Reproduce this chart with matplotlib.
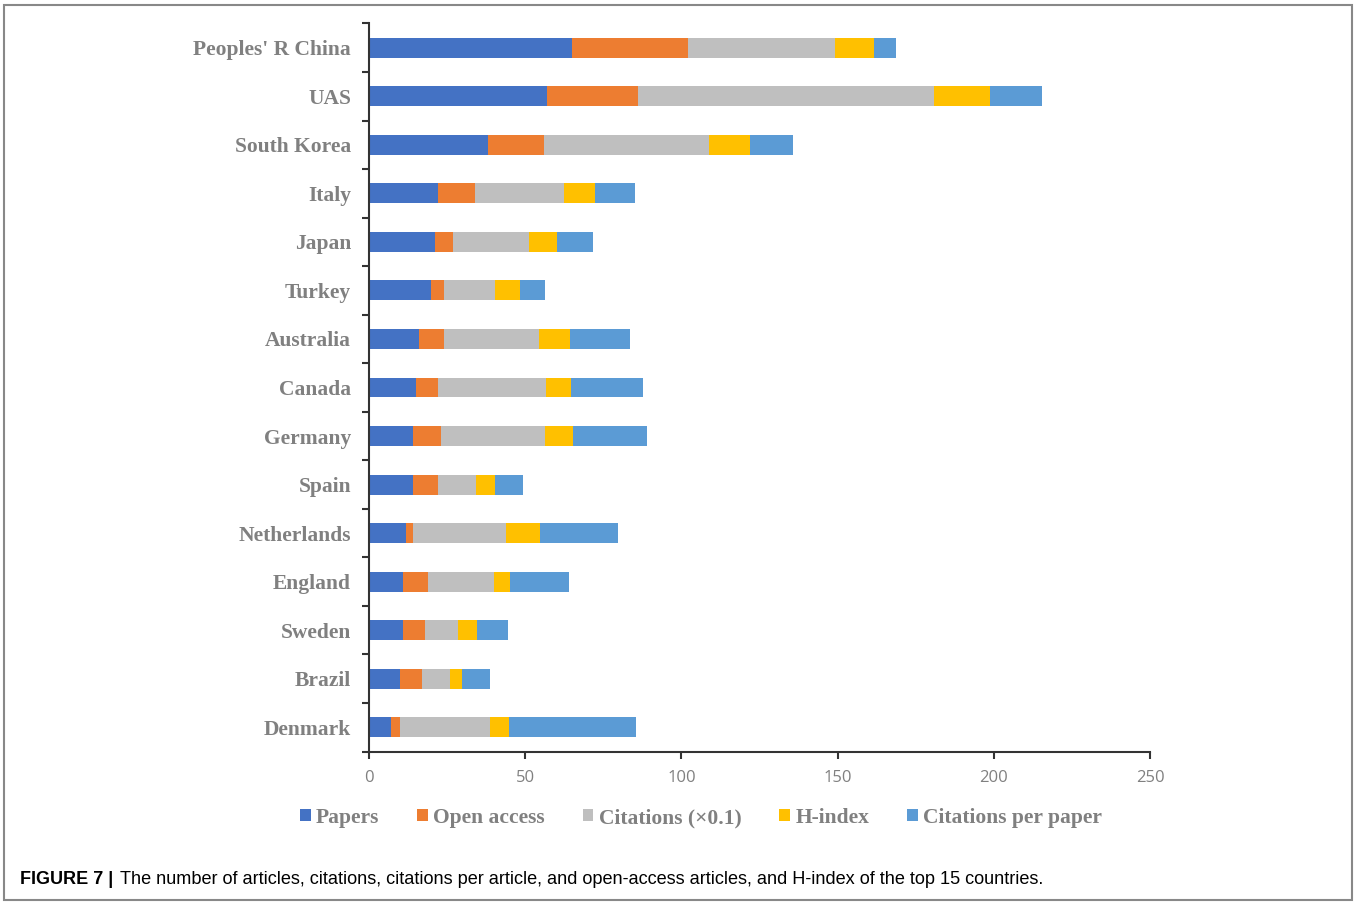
import numpy as np
import matplotlib.pyplot as plt
from matplotlib.patches import Rectangle

countries = ["Peoples' R China", "UAS", "South Korea", "Italy", "Japan", "Turkey",
             "Australia", "Canada", "Germany", "Spain", "Netherlands", "England",
             "Sweden", "Brazil", "Denmark"]
papers = [65, 57, 38, 22, 21, 20, 16, 15, 14, 14, 12, 11, 11, 10, 7]
open_access = [37, 29, 18, 12, 6, 4, 8, 7, 9, 8, 2, 8, 7, 7, 3]
citations = [47.3, 94.7, 52.8, 28.4, 24.2, 16.2, 30.5, 34.7, 33.3, 12.3, 29.8, 21.0, 10.6, 8.9, 28.7]
h_index = [12.2, 18.2, 13, 10, 9, 8, 10, 8, 9, 6, 11, 5, 6, 4, 6]
cit_per_paper = [7.2, 16.5, 13.8, 12.9, 11.5, 8, 19.1, 23, 23.8, 9.1, 24.8, 19.1, 9.8, 8.8, 40.9]

series = [("Papers", papers, "#4472C4"),
          ("Open access", open_access, "#ED7D31"),
          ("Citations (\u00d70.1)", citations, "#BFBFBF"),
          ("H-index", h_index, "#FFC000"),
          ("Citations per paper", cit_per_paper, "#5B9BD5")]

fig = plt.figure(figsize=(13.54, 9.02), dpi=100)
ax = fig.add_axes([369/1354, 1 - 751.5/902, (1150-369)/1354, (751.5-23.5)/902])

y = np.arange(len(countries))
left = np.zeros(len(countries))
for name, vals, col in series:
    ax.barh(y, vals, left=left, height=0.41, color=col, label=name)
    left += np.array(vals)

ax.set_ylim(len(countries) - 0.5, -0.5)
ax.set_xlim(0, 250)
ax.set_xticks([0, 50, 100, 150, 200, 250])
ax.set_yticks(y)
ax.set_yticklabels(countries, fontfamily="Liberation Serif", fontweight="bold",
                   fontsize=15.5, color="#808080")
ax.set_yticks(np.arange(len(countries) + 1) - 0.5, minor=True)
ax.tick_params(axis="y", which="major", length=0, pad=13)
ax.tick_params(axis="y", which="minor", length=5, width=1.5, color="#333333")
ax.tick_params(axis="x", length=5, width=1.5, color="#333333", labelsize=12,
               labelcolor="#808080", pad=8)
for lab in ax.get_xticklabels():
    lab.set_fontfamily("Open Sans")

for s in ["top", "right"]:
    ax.spines[s].set_visible(False)
for s in ["left", "bottom"]:
    ax.spines[s].set_color("#333333")
    ax.spines[s].set_linewidth(1.5)

leg = fig.legend(loc="center", bbox_to_anchor=(701/1354, 1 - 818/902), ncol=5,
                 frameon=False, handlelength=0.5, handleheight=0.5,
                 handletextpad=0.25, columnspacing=1.75,
                 prop={"family": "Liberation Serif", "weight": "bold", "size": 15.5})
for t in leg.get_texts():
    t.set_color("#808080")

fig.text(20/1354, 1 - 879/902, "FIGURE 7 |", fontfamily="Liberation Sans",
         fontweight="bold", fontsize=13, va="center")
fig.text(120/1354, 1 - 879/902,
         "The number of articles, citations, citations per article, and open-access articles, and H-index of the top 15 countries.",
         fontfamily="Liberation Sans", fontsize=13.1, va="center")

fig.patches.append(Rectangle((4/1354, 2/902), 1348/1354, 895/902, transform=fig.transFigure,
                             fill=False, edgecolor="#888888", linewidth=1.5))

plt.savefig("out.png", dpi=100)
